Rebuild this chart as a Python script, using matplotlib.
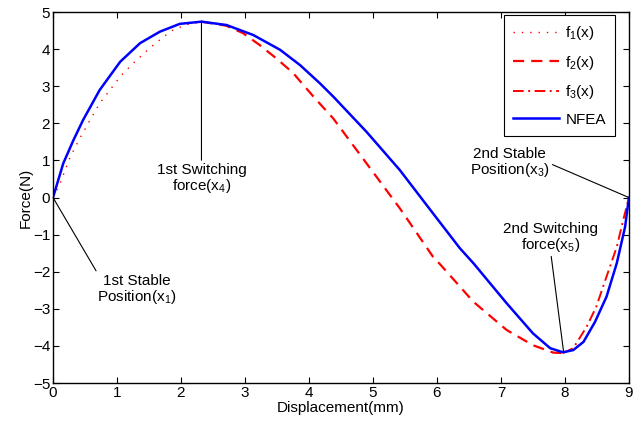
import matplotlib.pyplot as plt

plt.rcParams['font.family'] = ['Liberation Sans', 'DejaVu Sans']
plt.rcParams['mathtext.fontset'] = 'custom'
plt.rcParams['mathtext.rm'] = 'Liberation Sans'
plt.rcParams['mathtext.it'] = 'Liberation Sans'

# f1(x): first stable branch
f1_x = [0, 0.11, 0.27, 0.42, 0.58, 0.73, 0.89, 1.07, 1.28, 1.52, 1.75, 1.88, 2.09, 2.32]
f1_y = [0, 0.38, 1.10, 1.60, 2.09, 2.54, 2.90, 3.30, 3.66, 4.04, 4.36, 4.52, 4.66, 4.73]

# f2(x): middle branch
f2_x = [2.32, 2.71, 2.97, 3.23, 3.49, 3.75, 4.07, 4.38, 4.90, 5.42, 5.94, 6.05, 6.57, 7.09, 7.50, 7.82, 7.97]
f2_y = [4.74, 4.63, 4.43, 4.11, 3.75, 3.36, 2.72, 2.13, 0.92, -0.29, -1.60, -1.80, -2.81, -3.57, -3.98, -4.18, -4.19]

# f3(x): second stable branch
f3_x = [7.97, 8.13, 8.34, 8.49, 8.65, 8.81, 8.91, 9.0]
f3_y = [-4.19, -4.06, -3.48, -2.94, -2.13, -1.33, -0.61, 0]

# NFEA results
fea_x = [0, 0.16, 0.32, 0.47, 0.73, 1.05, 1.36, 1.67, 1.98, 2.32, 2.71, 3.13, 3.55, 3.86, 4.17,
         4.38, 4.90, 5.42, 5.94, 6.36, 6.57, 7.09, 7.50, 7.77, 7.97, 8.13, 8.29, 8.47, 8.65, 8.81,
         8.94, 9.0]
fea_y = [0, 0.92, 1.55, 2.09, 2.90, 3.66, 4.16, 4.47, 4.68, 4.74, 4.65, 4.38, 3.98, 3.57, 3.08,
         2.72, 1.77, 0.74, -0.43, -1.37, -1.77, -2.85, -3.66, -4.06, -4.17, -4.11, -3.89, -3.35,
         -2.67, -1.77, -0.79, 0]

fig = plt.figure(figsize=(6.34, 4.29), dpi=100)
ax = fig.add_axes([0.0836, 0.107, 0.9084, 0.865])

ax.plot(f1_x, f1_y, color='red', lw=1, dashes=(1, 5), label='f$_1$(x)')
ax.plot(f2_x, f2_y, color='red', lw=1.6, dashes=(5, 3.2), label='f$_2$(x)')
ax.plot(f3_x, f3_y, color='red', lw=1.4, dashes=(5.5, 2.3, 1, 2.3), label='f$_3$(x)')
ax.plot(fea_x, fea_y, '-', color='blue', lw=1.8, label='NFEA')

ax.set_xlim(0, 9)
ax.set_ylim(-5, 5)
ax.set_xticks(range(0, 10))
ax.set_yticks(range(-5, 6))
ax.tick_params(direction='in', top=True, right=True, labelsize=11, length=4, pad=2)
for s in ax.spines.values():
    s.set_linewidth(1)
ax.set_xlabel('Displacement(mm)', fontsize=11, labelpad=1)
ax.set_ylabel('Force(N)', fontsize=11, labelpad=0)

kw = dict(fontsize=11, ha='center', va='center', linespacing=1.0)


def note(text, xy, xytext, rel):
    ax.annotate(text, xy=xy, xytext=xytext, **kw,
                arrowprops=dict(arrowstyle='-', color='black', lw=0.8,
                                shrinkA=0, shrinkB=0, relpos=rel))


note('1st Switching\nforce(x$_4$)', (2.32, 4.74), (2.32, 0.5), (0.5, 1.0))
note('1st Stable\nPosition(x$_1$)', (0, 0), (1.31, -2.48), (0.02, 0.95))
note('2nd Stable\nPosition(x$_3$)', (9, 0), (7.14, 0.92), (1.0, 0.5))
note('2nd Switching\nforce(x$_5$)', (7.98, -4.17), (7.78, -1.08), (0.5, 0.0))

leg = ax.legend(loc='upper right', bbox_to_anchor=(0.976, 0.992), borderaxespad=0,
                fontsize=11, fancybox=False, edgecolor='black', framealpha=1,
                handlelength=3.0, labelspacing=0.75, handletextpad=0.4, borderpad=0.6)
leg.get_frame().set_linewidth(0.8)

fig.savefig('out.png', dpi=100)
